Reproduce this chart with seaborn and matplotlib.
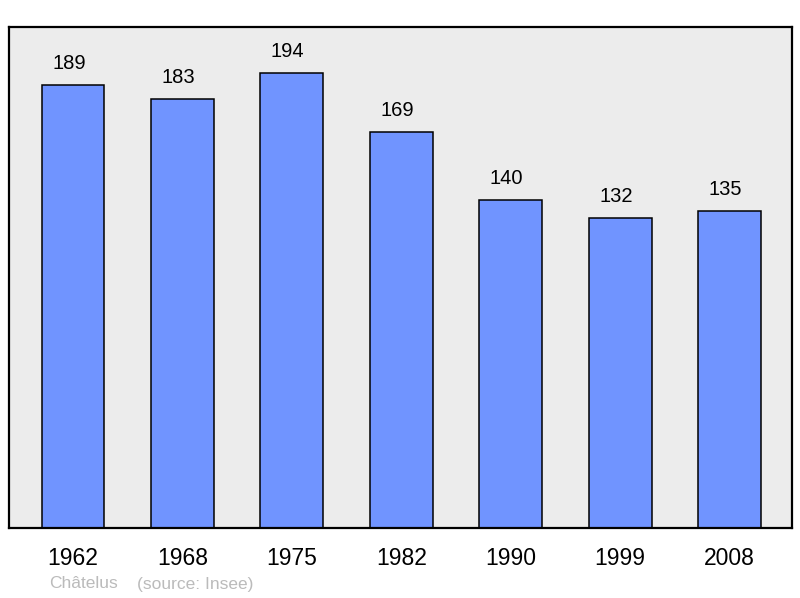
import matplotlib.pyplot as plt
import pandas as pd
import seaborn as sns

years = ["1962", "1968", "1975", "1982", "1990", "1999", "2008"]
population = [189, 183, 194, 169, 140, 132, 135]
town = "Châtelus"
source = "(source: Insee)"

df = pd.DataFrame({"year": years, "population": population})

sns.set_style("white")
plt.rcParams["font.family"] = ["Liberation Sans", "DejaVu Sans"]

fig = plt.figure(figsize=(8, 5.98), dpi=100)
ax = fig.add_axes([0.01125, 0.1171, 0.97875, 0.8378])
ax.set_facecolor("#ececec")

sns.barplot(data=df, x="year", y="population", color="#7094ff",
            saturation=1, width=0.575, edgecolor="black", linewidth=1.1, ax=ax)

for i, v in enumerate(population):
    ax.annotate(str(v), (i, v), xytext=(-3, 11.5), textcoords="offset points",
                ha="center", va="baseline", fontsize=14.5, color="black")

ax.set_xlim(-0.585, 6.57)
ax.set_ylim(0, 213.6)
ax.set_yticks([])
ax.set_xlabel("")
ax.set_ylabel("")
ax.tick_params(axis="x", length=0, pad=14, labelsize=16.5, labelcolor="black")
for s in ax.spines.values():
    s.set_linewidth(1.6)
    s.set_color("black")

fig.text(49 / 800, 1 - 584 / 598, town, color="#bbbbbb", fontsize=12.5, va="center")
fig.text(137 / 800, 1 - 584 / 598, source, color="#bbbbbb", fontsize=12.5, va="center")

fig.savefig("out.png", dpi=100)
plt.close(fig)
